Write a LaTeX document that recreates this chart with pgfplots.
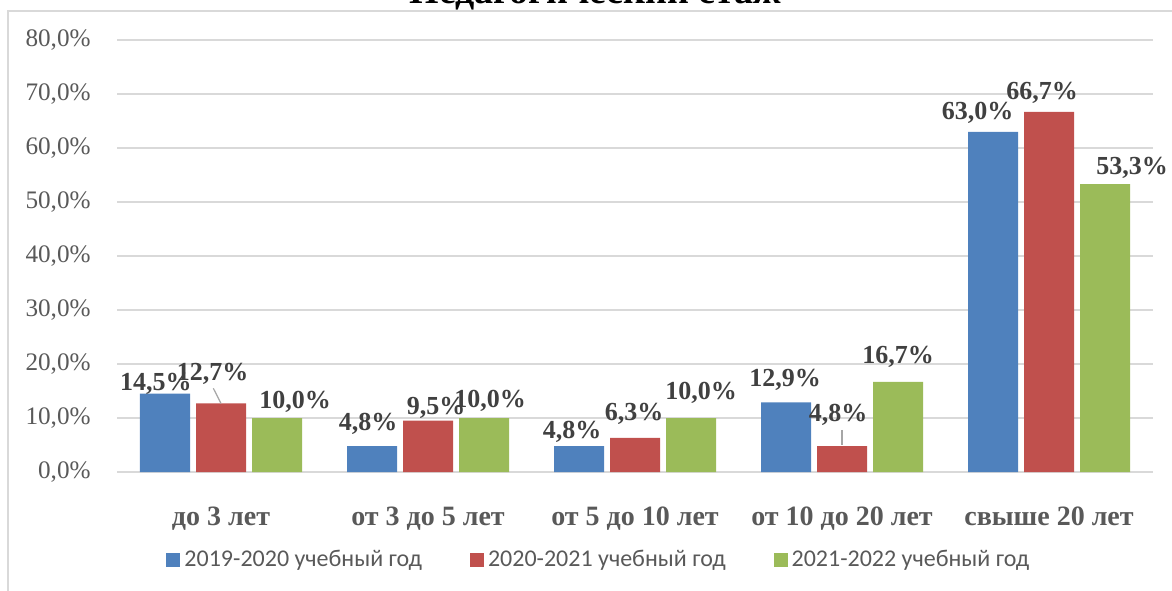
\documentclass[border=0pt]{standalone}
\usepackage{pgfplots}
\usepackage{pgfplotstable}
\pgfplotsset{compat=1.18}
\usepackage{fontspec}
\setmainfont{Liberation Serif}
\newfontfamily\carlito{Carlito}
\definecolor{cblue}{HTML}{4F81BD}
\definecolor{cred}{HTML}{C0504D}
\definecolor{cgreen}{HTML}{9BBB59}
\definecolor{ctext}{HTML}{595959}
\definecolor{clabel}{HTML}{404040}
\definecolor{cgrid}{HTML}{D9D9D9}

% x y  dx dy  (label offsets in px of the reference)
\pgfplotstableread{
x y dx dy
0 14.5 -9 3
1 4.8 -4 16
2 4.8 -7 8
3 12.9 -1 16
4 63.0 -15.5 12
}\first
\pgfplotstableread{
x y dx dy
0 12.7 -8.5 23
1 9.5 8 6
2 6.3 -1 17
3 4.8 -4 25
4 66.7 -7 12
}\second
\pgfplotstableread{
x y dx dy
0 10.0 18 10
1 10.0 6 11
2 10.0 10 19
3 16.7 0 18
4 53.3 27 10
}\third

\begin{document}
\begin{tikzpicture}
\useasboundingbox (-58.75pt,-59pt) rectangle (527.25pt,236pt);
\clip (-58.75pt,-59pt) rectangle (527.25pt,236pt);
% chart frame and cut title
\draw[cgrid, line width=0.75pt] (-54.75pt,230.5pt) rectangle (600pt,-80pt);
\node[anchor=base, inner sep=0pt, font=\bfseries\fontsize{19}{19}\selectfont]
  at (239pt,234pt) {Педагогический стаж};
\begin{axis}[
    at={(0,0)}, anchor=south west,
    x=103.5pt, y=2.7pt,
    xmin=-0.5, xmax=4.5, ymin=0, ymax=80,
    ybar=3pt, bar width=25pt,
    axis line style={draw=none},
    tick style={draw=none},
    ymajorgrids, grid style={cgrid, line width=0.75pt},
    ytick={0,10,...,80},
    /pgf/number format/assume math mode=true,
    yticklabel={\pgfmathprintnumber[fixed,fixed zerofill,precision=1,use comma]{\tick}\%},
    yticklabel style={anchor=east, inner sep=0pt, xshift=-13.25pt,
        font=\fontsize{12.6}{12.6}\selectfont, text=ctext},
    xtick={0,1,2,3,4},
    xticklabels={до 3 лет, от 3 до 5 лет, от 5 до 10 лет, от 10 до 20 лет, свыше 20 лет},
    xticklabel style={anchor=base, inner sep=0pt, yshift=-22.5pt,
        font=\bfseries\fontsize{14}{14}\selectfont, text=ctext},
    nodes near coords={\pgfmathprintnumber[fixed,fixed zerofill,precision=1,use comma]{\pgfplotspointmeta}\%},
    visualization depends on={\thisrow{dx}\as\dx},
    visualization depends on={\thisrow{dy}\as\dy},
    every node near coord/.append style={anchor=base, inner sep=0pt,
        xshift={\dx*0.5pt}, yshift={\dy*0.5pt},
        font=\bfseries\fontsize{13}{13}\selectfont, text=clabel},
    legend columns=3,
    legend style={at={(axis description cs:0.466,-0.2037)}, anchor=center,
        draw=none, fill=none, font=\carlito\fontsize{12}{12}\selectfont, text=ctext,
        /tikz/every even column/.append style={column sep=22pt}},
    sq/.style={legend image code/.code={\fill[##1] (0pt,-3.5pt) rectangle (7pt,3.5pt);}},
]
\addplot[fill=cblue, draw=none, sq] table[x=x,y=y] {\first};
\addplot[fill=cred, draw=none, sq] table[x=x,y=y] {\second};
\addplot[fill=cgreen, draw=none, sq] table[x=x,y=y] {\third};
\legend{2019-2020 учебный год, 2020-2021 учебный год, 2021-2022 учебный год}
% leader lines of moved labels
\draw[gray!70, line width=0.6pt] (axis cs:-0.037,15.5) -- (axis cs:0,12.7);
\draw[gray!70, line width=0.6pt] (axis cs:3,7.8) -- (axis cs:3,5.0);
\end{axis}
\end{tikzpicture}
\end{document}
